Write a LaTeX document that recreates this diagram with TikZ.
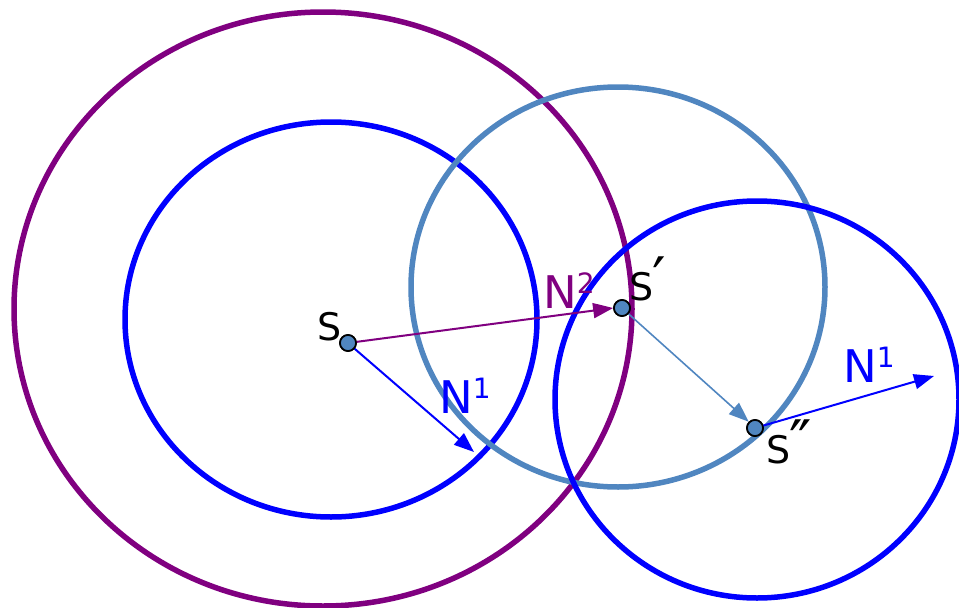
\documentclass[tikz,border=0pt]{standalone}
\usepackage{fontspec}
\setmainfont{DejaVu Sans}
\usetikzlibrary{arrows.meta}
\definecolor{cpurple}{RGB}{128,0,128}
\definecolor{cblue}{RGB}{0,0,255}
\definecolor{csteel}{RGB}{80,134,192}
\newcommand{\bigprime}[1]{{\fontsize{60}{60}\selectfont #1}}
\tikzset{
  ring/.style={line width=5.5pt},
  vec/.style={line width=2pt,-{Triangle[length=20pt,width=15pt]}},
  dot/.style={circle,draw=black,line width=1.7pt,fill=csteel,minimum size=16pt,inner sep=0pt},
  lblS/.style={font=\fontsize{38}{40}\selectfont,text=black,inner sep=0pt},
  lblN/.style={font=\fontsize{45}{47}\selectfont,inner sep=0pt}
}
\begin{document}
\begin{tikzpicture}[x=1pt,y=-1pt]
\useasboundingbox (0,0) rectangle (959,608);
% circles
\draw[ring,cpurple] (323,309) ellipse [x radius=309, y radius=297];
\draw[ring,cblue] (331,319.5) ellipse [x radius=206, y radius=197.5];
\draw[ring,csteel] (618,287) ellipse [x radius=207, y radius=200];
\draw[ring,cblue] (757,399.5) ellipse [x radius=202, y radius=198.5];
% points
\node[dot] (s) at (348,343) {};
\node[dot] (s1) at (622,308) {};
\node[dot] (s2) at (755,428) {};
\coordinate (t1) at (474,452);
\coordinate (t2) at (934,376);
% vectors
\draw[vec,cpurple] (s.center) -- (s1.west);
\draw[vec,cblue] (s.center) -- (t1);
\draw[vec,csteel,line width=1.6pt] (s1.center) -- (s2.north west);
\draw[vec,cblue] (s2.center) -- (t2);
\node[dot] at (s) {};
\node[dot] at (s1) {};
\node[dot] at (s2) {};
% labels
\node[lblS,anchor=base west] (ls) at (317,340) {S};
\node[lblS,anchor=base west] (ls1) at (629,300) {S\kern-1pt\bigprime{′}};
\node[lblS,anchor=base west] (ls2) at (766,463) {S\kern-1pt\bigprime{″}};
\node[lblN,text=cpurple,anchor=base west] (ln2) at (543,308) {N\raisebox{0.32em}{\fontsize{28}{30}\selectfont 2}};
\node[lblN,text=cblue,anchor=base west] (ln1) at (439,413) {N\raisebox{0.32em}{\fontsize{28}{30}\selectfont 1}};
\node[lblN,text=cblue,anchor=base west] (ln1b) at (843,382) {N\raisebox{0.32em}{\fontsize{28}{30}\selectfont 1}};
\end{tikzpicture}
\end{document}
